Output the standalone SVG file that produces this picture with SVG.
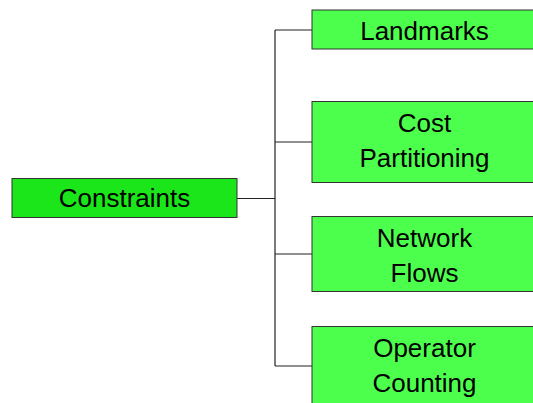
<svg xmlns="http://www.w3.org/2000/svg" width="533" height="403" viewBox="0 0 533 403">
<style>
.box{stroke:#333;stroke-width:1}
.root{fill:#1AE61A}
.leaf{fill:#4DFF4D}
.t{font-family:"Liberation Sans",Arial,sans-serif;font-size:26px;fill:#000;text-anchor:middle}
.c{fill:none;stroke:#222;stroke-width:1.2}
</style>
<rect width="533" height="403" fill="#fff"/>
<g id="connectors">
<path class="c" d="M237,198.5 H275 M275,30 V366 M275,30 H312 M275,142 H312 M275,254 H312 M275,366 H312"/>
</g>
<g id="constraints">
<rect class="box root" x="12" y="178.5" width="225" height="39"/>
<text class="t" x="124.5" y="206.7">Constraints</text>
</g>
<g id="landmarks">
<rect class="box leaf" x="312" y="10" width="225" height="39"/>
<text class="t" x="424.5" y="40">Landmarks</text>
</g>
<g id="cost-partitioning">
<rect class="box leaf" x="312" y="101.5" width="225" height="81"/>
<text class="t" x="424.5" y="131.5">Cost</text>
<text class="t" x="424.5" y="166.5">Partitioning</text>
</g>
<g id="network-flows">
<rect class="box leaf" x="312" y="216.5" width="225" height="75"/>
<text class="t" x="424.5" y="246.5">Network</text>
<text class="t" x="424.5" y="281.5">Flows</text>
</g>
<g id="operator-counting">
<rect class="box leaf" x="312" y="326.5" width="225" height="90"/>
<text class="t" x="424.5" y="356.5">Operator</text>
<text class="t" x="424.5" y="391.5">Counting</text>
</g>
</svg>
